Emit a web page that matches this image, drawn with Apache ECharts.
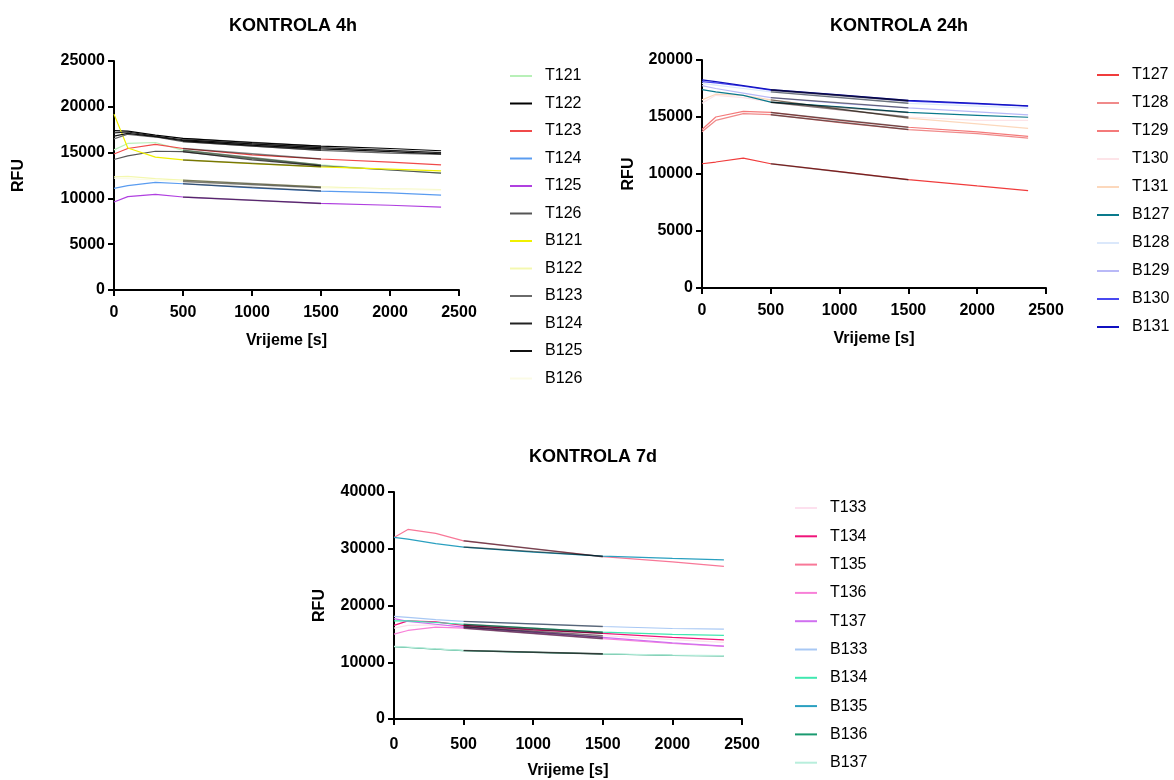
<!DOCTYPE html>
<html>
<head>
<meta charset="utf-8">
<script src="https://cdn.jsdelivr.net/npm/echarts@6/dist/echarts.min.js"></script>
<style>
html,body{margin:0;padding:0;background:#fff;}
#chart{width:1174px;height:780px;}
</style>
</head>
<body>
<div id="chart"></div>
<script>
// Shared time points (s)
const timePoints = [0, 100, 300, 500, 1000, 1500, 2000, 2370];
const fitStart = 500, fitEnd = 1500;

// Panel titles and tick labels
const panelTitles = ['KONTROLA 4h', 'KONTROLA 24h', 'KONTROLA 7d'];
const xAxisName = 'Vrijeme [s]';
const yAxisName = 'RFU';
const xTicks = [0, 500, 1000, 1500, 2000, 2500];
const yTicks4h = [0, 5000, 10000, 15000, 20000, 25000];
const yTicks24h = [0, 5000, 10000, 15000, 20000];
const yTicks7d = [0, 10000, 20000, 30000, 40000];

// KONTROLA 4h
const names4h = ['T121','T122','T123','T124','T125','T126','B121','B122','B123','B124','B125','B126'];
const T121 = [15300, 16000, 16100, 15250, 14400, 13650, 13100, 12750];
const T122 = [17400, 17350, 16900, 16550, 16100, 15700, 15450, 15200];
const T123 = [14850, 15450, 15900, 15450, 14750, 14300, 13950, 13650];
const T124 = [11100, 11400, 11750, 11600, 11150, 10800, 10600, 10350];
const T125 = [9600, 10200, 10450, 10150, 9800, 9450, 9250, 9050];
const T126 = [14250, 14650, 15150, 15100, 14200, 13550, 13100, 12750];
const B121 = [19200, 15500, 14500, 14200, 13800, 13450, 13200, 13000];
const B122 = [12350, 12400, 12150, 12000, 11600, 11250, 11050, 10950];
const B123 = [16500, 17000, 16700, 16200, 15700, 15250, 14950, 14800];
const B124 = [17150, 17250, 16800, 16400, 15950, 15550, 15250, 15000];
const B125 = [16800, 17100, 16750, 16300, 15800, 15400, 15100, 14850];
const B126 = [12200, 12150, 12000, 11850, 11500, 11150, 11000, 10900];
const values4h = [T121,T122,T123,T124,T125,T126,B121,B122,B123,B124,B125,B126];
const colors4h = ['#b8f0b8','#000000','#f04a4a','#5a9cf0','#b040e0','#555555','#f0f000','#f4f8b0','#6a6a6a','#222222','#111111','#fbfbe6'];

// KONTROLA 24h
const names24h = ['T127','T128','T129','T130','T131','B127','B128','B129','B130','B131'];
const T127 = [10900, 11050, 11400, 10900, 10200, 9500, 8950, 8550];
const T128 = [13700, 14700, 15300, 15200, 14500, 13900, 13550, 13150];
const T129 = [13900, 15000, 15500, 15400, 14700, 14100, 13700, 13300];
const T130 = [16200, 16900, 16700, 16300, 15600, 15000, 14700, 14700];
const T131 = [16500, 17000, 16900, 16500, 15700, 14900, 14400, 14000];
const B127 = [17400, 17200, 16900, 16300, 15900, 15400, 15150, 14980];
const B128 = [17950, 17800, 17500, 17200, 16700, 16200, 15950, 15770];
const B129 = [17750, 17500, 17100, 16700, 16200, 15800, 15450, 15180];
const B130 = [18100, 18000, 17700, 17350, 16900, 16400, 16150, 15950];
const B131 = [18250, 18100, 17750, 17400, 16950, 16450, 16200, 15970];
const values24h = [T127,T128,T129,T130,T131,B127,B128,B129,B130,B131];
const colors24h = ['#f03c3c','#f08a8a','#f47a7a','#fde4e8','#fcd8bc','#0a7a8c','#dbe8fb','#b9b9f7','#4848f0','#1010c0'];

// KONTROLA 7d
const names7d = ['T133','T134','T135','T136','T137','B133','B134','B135','B136','B137'];
const T133 = [16000, 16500, 16600, 16300, 15500, 14700, 14000, 13500];
const T134 = [16500, 17300, 17100, 16500, 15700, 15100, 14400, 13950];
const T135 = [32000, 33400, 32700, 31400, 30000, 28600, 27700, 26900];
const T136 = [14950, 15600, 16200, 16000, 15100, 14150, 13300, 12800];
const T137 = [17700, 17200, 16700, 16200, 15300, 14400, 13400, 12850];
const B133 = [18100, 17900, 17500, 17200, 16750, 16300, 15950, 15850];
const B134 = [17300, 17300, 17000, 16700, 16000, 15300, 14900, 14750];
const B135 = [32000, 31700, 30900, 30300, 29400, 28700, 28300, 28050];
const B136 = [12750, 12600, 12300, 12050, 11750, 11450, 11200, 11100];
const B137 = [12800, 12650, 12350, 12100, 11800, 11500, 11250, 11150];
const values7d = [T133,T134,T135,T136,T137,B133,B134,B135,B136,B137];
const colors7d = ['#fde0ee','#f0147a','#f87898','#f880d8','#d070f0','#a8c8f4','#40e8b0','#2aa0c0','#1a9a70','#b8eedc'];

// ---- build options ----
const FONT = 'Liberation Sans, Arial, sans-serif';
const grids = [
  {left: 114, top: 61, width: 345, height: 229},
  {left: 702, top: 60, width: 344, height: 228},
  {left: 394, top: 492, width: 348, height: 230}
];
const yTickSets = [yTicks4h, yTicks24h, yTicks7d];
const yNameGaps = [87, 65, 66];
const xLabelMargins = [15, 15, 18];
const xNameGaps = [43, 43, 44];
const plain = v => String(v);

function xAxisFor(i){
  return {
    type: 'value', gridIndex: i, min: xTicks[0], max: xTicks[xTicks.length-1],
    interval: xTicks[1]-xTicks[0],
    name: xAxisName, nameLocation: 'middle', nameGap: xNameGaps[i],
    nameTextStyle: {fontFamily: FONT, fontWeight: 'bold', fontSize: 16, color: '#000'},
    axisLine: {show: true, onZero: false, lineStyle: {color: '#000', width: 2}},
    axisTick: {show: true, length: 6, lineStyle: {color: '#000', width: 2}},
    axisLabel: {fontFamily: FONT, fontWeight: 'bold', fontSize: 16, color: '#000', margin: xLabelMargins[i], formatter: plain},
    splitLine: {show: false}
  };
}
function yAxisFor(i){
  const t = yTickSets[i];
  return {
    type: 'value', gridIndex: i, min: t[0], max: t[t.length-1], interval: t[1]-t[0],
    name: yAxisName, nameLocation: 'middle', nameGap: yNameGaps[i], nameRotate: 90,
    nameTextStyle: {fontFamily: FONT, fontWeight: 'bold', fontSize: 16, color: '#000'},
    axisLine: {show: true, onZero: false, lineStyle: {color: '#000', width: 2}},
    axisTick: {show: true, length: 6, lineStyle: {color: '#000', width: 2}},
    axisLabel: {fontFamily: FONT, fontWeight: 'bold', fontSize: 16, color: '#000', margin: 9, formatter: plain},
    splitLine: {show: false}
  };
}

const series = [];
const panels = [
  {names: names4h, values: values4h, colors: colors4h},
  {names: names24h, values: values24h, colors: colors24h},
  {names: names7d, values: values7d, colors: colors7d}
];
const i0 = timePoints.indexOf(fitStart), i1 = timePoints.indexOf(fitEnd);
panels.forEach((p, gi) => {
  p.names.forEach((n, k) => {
    series.push({
      type: 'line', name: n, xAxisIndex: gi, yAxisIndex: gi,
      data: timePoints.map((t, j) => [t, p.values[k][j]]),
      symbol: 'none', smooth: false, color: p.colors[k],
      lineStyle: {width: 1.2, color: p.colors[k]}, z: 2, animation: false
    });
  });
  // linear fit segments (500–1500 s) drawn over each trace
  p.names.forEach((n, k) => {
    series.push({
      type: 'line', name: n + ' fit', xAxisIndex: gi, yAxisIndex: gi,
      data: [[fitStart, p.values[k][i0]], [fitEnd, p.values[k][i1]]],
      symbol: 'none', lineStyle: {width: 1.4, color: 'rgba(0,0,0,0.5)'}, z: 3,
      animation: false, silent: true
    });
  });
});

const legendBase = {
  orient: 'vertical', icon: 'rect', itemWidth: 22, itemHeight: 2, padding: 0,
  height: 400,
  textStyle: {fontFamily: FONT, fontSize: 16, lineHeight: 16, color: '#000', padding: [0,0,0,8]},
  selectedMode: false
};

const option = {
  backgroundColor: '#fff',
  animation: false,
  title: [
    {text: panelTitles[0], left: 288, top: 12, textAlign: 'center', textStyle: {fontFamily: FONT, fontWeight: 'bold', fontSize: 18, color: '#000'}},
    {text: panelTitles[1], left: 894, top: 12, textAlign: 'center', textStyle: {fontFamily: FONT, fontWeight: 'bold', fontSize: 18, color: '#000'}},
    {text: panelTitles[2], left: 588, top: 443, textAlign: 'center', textStyle: {fontFamily: FONT, fontWeight: 'bold', fontSize: 18, color: '#000'}}
  ],
  grid: grids,
  xAxis: [xAxisFor(0), xAxisFor(1), xAxisFor(2)],
  yAxis: [yAxisFor(0), yAxisFor(1), yAxisFor(2)],
  legend: [
    Object.assign({}, legendBase, {left: 510, top: 68, itemGap: 11.5, data: names4h}),
    Object.assign({}, legendBase, {left: 1097, top: 67, itemGap: 12, data: names24h}),
    Object.assign({}, legendBase, {left: 795, top: 500, itemGap: 12.3, data: names7d})
  ],
  series: series
};

const chart = echarts.init(document.getElementById('chart'), null, {renderer: 'canvas'});
chart.setOption(option);
</script>
</body>
</html>
